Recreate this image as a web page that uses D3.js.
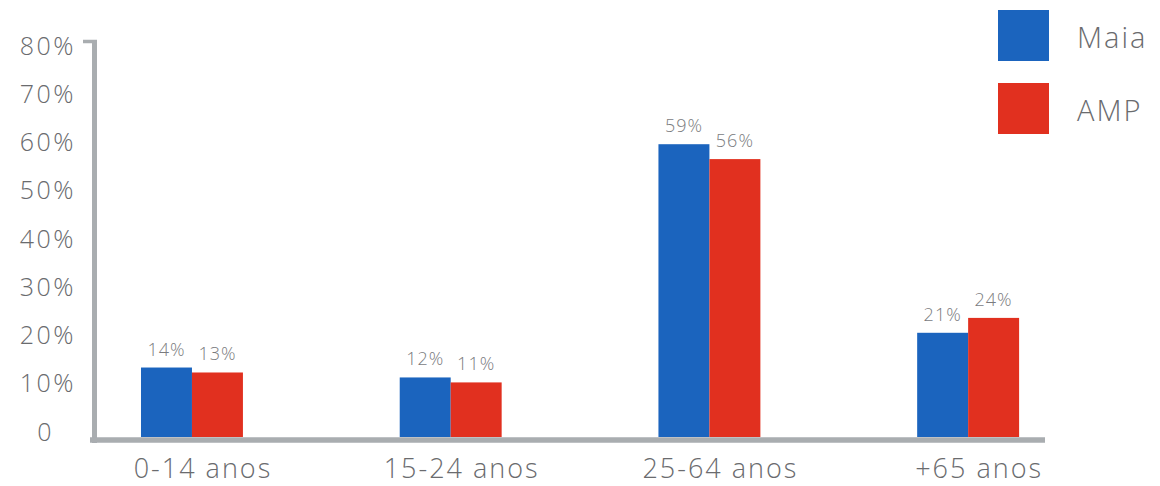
<!DOCTYPE html>
<html>
<head>
<meta charset="utf-8">
<script src="https://cdn.jsdelivr.net/npm/d3@7"></script>
<style>
  html, body { margin: 0; padding: 0; background: #ffffff; }
  svg { display: block; }
  text { font-family: "Open Sans", "DejaVu Sans", sans-serif; font-weight: 300; }
</style>
</head>
<body>
<svg id="chart" width="1160" height="486"></svg>
<script>
// ---- data ----
const categories = ["0-14 anos", "15-24 anos", "25-64 anos", "+65 anos"];
const seriesNames = ["Maia", "AMP"];
const maiaValues = [14, 12, 59, 21];
const ampValues = [13, 11, 56, 24];
const yTickValues = [0, 10, 20, 30, 40, 50, 60, 70, 80];
const yTickLabels = ["0", "10%", "20%", "30%", "40%", "50%", "60%", "70%", "80%"];
const colors = ["#1b64be", "#e1301f"];

const seriesValues = [maiaValues, ampValues];
const data = categories.map((c, i) => ({
  cat: c,
  values: seriesNames.map((s, j) => ({ series: s, value: seriesValues[j][i], idx: j }))
}));

const svg = d3.select("#chart");
const axisColor = "#a9adb0";
const textColor = "#6a6b6e";

// scales
const y = d3.scaleLinear().domain([0, 80]).range([437, 40]);
const yLabel = y.copy().range([431, 45]);
const x0 = d3.scaleBand().domain(categories).range([62.6, 1097.5]).paddingInner(0.606).paddingOuter(0.303);
const x1 = d3.scaleBand().domain(seriesNames).range([0, x0.bandwidth()]);
const color = d3.scaleOrdinal().domain(seriesNames).range(colors);

// y axis labels
const yAxis = d3.axisLeft(yLabel)
  .tickValues(yTickValues)
  .tickFormat((d, i) => yTickLabels[i])
  .tickSize(0)
  .tickPadding(0);
const yg = svg.append("g").attr("transform", "translate(76,0)").call(yAxis);
yg.select(".domain").remove();
yg.selectAll("text")
  .attr("font-family", "\"Open Sans\", sans-serif")
  .attr("font-weight", 300)
  .attr("font-size", 25)
  .attr("letter-spacing", 2.5)
  .attr("fill", textColor)
  .attr("dy", "0.36em")
  .attr("dx", d => d === 0 ? -22 : 0);

// axis lines
svg.append("line")
  .attr("x1", 94.5).attr("x2", 94.5)
  .attr("y1", y(80)).attr("y2", y(0) + 6)
  .attr("stroke", axisColor).attr("stroke-width", 5);
svg.append("line")
  .attr("x1", 83).attr("x2", 97)
  .attr("y1", y(80) + 1.5).attr("y2", y(80) + 1.5)
  .attr("stroke", axisColor).attr("stroke-width", 3.5);

// bars
const groups = svg.append("g").selectAll("g")
  .data(data).join("g")
  .attr("transform", d => `translate(${x0(d.cat)},0)`);

groups.selectAll("rect")
  .data(d => d.values).join("rect")
  .attr("x", d => x1(d.series))
  .attr("y", d => y(d.value))
  .attr("width", x1.bandwidth())
  .attr("height", d => y(0) - y(d.value))
  .attr("fill", d => color(d.series));

groups.selectAll("text.val")
  .data(d => d.values).join("text")
  .attr("class", "val")
  .attr("x", d => x1(d.series) + x1.bandwidth() / 2)
  .attr("y", d => y(d.value) - 12)
  .attr("text-anchor", "middle")
  .attr("font-size", 18)
  .attr("letter-spacing", 1)
  .attr("fill", "#7a7b7e")
  .text(d => d.value + "%");

// x axis line
svg.append("line")
  .attr("x1", 90).attr("x2", 1045)
  .attr("y1", y(0) + 3).attr("y2", y(0) + 3)
  .attr("stroke", axisColor).attr("stroke-width", 5.5);

// x axis labels
const xAxis = d3.axisBottom(x0).tickSize(0).tickPadding(0);
const xg = svg.append("g").attr("transform", "translate(11,478)").call(xAxis);
xg.select(".domain").remove();
xg.selectAll("text")
  .attr("font-family", "\"Open Sans\", sans-serif")
  .attr("font-weight", 300)
  .attr("font-size", 27)
  .attr("letter-spacing", 2)
  .attr("fill", textColor)
  .attr("dy", 0);

// legend
const legend = svg.append("g").selectAll("g")
  .data(seriesNames).join("g")
  .attr("transform", (d, i) => `translate(998,${10 + i * 73})`);
legend.append("rect")
  .attr("width", 51).attr("height", 51)
  .attr("fill", d => color(d));
legend.append("text")
  .attr("x", 79).attr("y", 38)
  .attr("font-size", 29)
  .attr("letter-spacing", 2)
  .attr("fill", textColor)
  .text(d => d);
</script>
</body>
</html>
